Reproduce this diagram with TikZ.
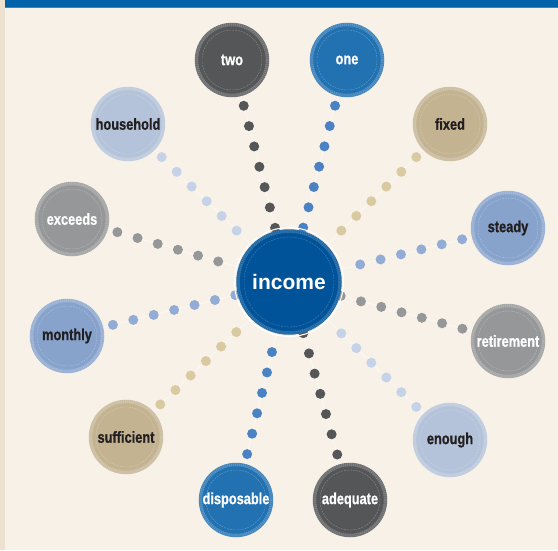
\documentclass[tikz,border=0pt]{standalone}
\usepackage{fontspec}
\setmainfont{Liberation Sans}
\newfontfamily\narrow[FakeStretch=0.8,BoldFeatures={FakeBold=0.8}]{Liberation Sans}

\definecolor{cream}{HTML}{F8F1E7}
\definecolor{strip}{HTML}{EDE2D0}
\definecolor{barblue}{HTML}{0062A8}
\definecolor{barlight}{HTML}{3A86C4}
\definecolor{ink}{HTML}{231F20}
\definecolor{cdark}{HTML}{555657}
\definecolor{cblue}{HTML}{2271B1}
\definecolor{cpale}{HTML}{B4C3D9}
\definecolor{ctan}{HTML}{C3B391}
\definecolor{cgray}{HTML}{969798}
\definecolor{cmid}{HTML}{87A3CC}
\definecolor{cincome}{HTML}{005399}
\definecolor{dblue}{HTML}{4A82C4}
\definecolor{dpale}{HTML}{C5D2E7}
\definecolor{dtan}{HTML}{DACAA2}
\definecolor{dmid}{HTML}{93ACD5}

\pgfdeclarelayer{back}
\pgfdeclarelayer{mid}
\pgfsetlayers{back,mid,main}

\begin{document}
\begin{tikzpicture}[x=1pt,y=-1pt,
  bubble/.style 2 args={circle,minimum size=71pt,inner sep=0pt,fill=#1,
    draw=#1!85!white,line width=3.5pt,text=#2,
    font=\narrow\bfseries\fontsize{16}{16}\selectfont,
    postaction={draw=white,draw opacity=.15,line width=3.5pt,dash pattern=on .5pt off 1.5pt},
    path picture={\draw[white,opacity=.3,line width=.4pt,dash pattern=on 2pt off 1pt]
      (path picture bounding box.center) circle (30pt);}},
  dotline/.style={draw=#1,line width=10pt,line cap=round,
    dash pattern=on 0pt off 21pt,shorten <=10pt}]

  \useasboundingbox (0,0) rectangle (558,550);
  \begin{pgfonlayer}{back}
    \fill[cream] (0,0) rectangle (558,550);
    \fill[strip] (0,0) rectangle (5,550);
    \fill[barblue] (5,0) rectangle (558,6.5);
    \fill[barlight] (5,6.5) rectangle (558,8);
  \end{pgfonlayer}

  % centre
  \node [bubble={cincome}{white},minimum size=102pt,draw=cincome!88!white,
    font=\bfseries\fontsize{21}{21}\selectfont,
    path picture={\draw[white,opacity=.25,line width=.4pt,dash pattern=on 2pt off 1pt]
      (path picture bounding box.center) circle (45pt);}] (income) at (289,282) {income};
  \draw[white,line width=1pt] (income.center) circle (54.5pt);

  % words
  \node [bubble={cdark}{white}] (two) at (232,60) {two};
  \node [bubble={cblue}{white}] (one) at (347,60) {one};
  \node [bubble={cpale}{ink}] (household) at (128,124) {household};
  \node [bubble={ctan}{ink}] (fixed) at (450,124) {fixed};
  \node [bubble={cgray}{white}] (exceeds) at (72,219) {exceeds};
  \node [bubble={cmid}{ink}] (steady) at (508,228) {steady};
  \node [bubble={cmid}{ink}] (monthly) at (67,336) {monthly};
  \node [bubble={cgray}{white}] (retirement) at (508,341) {retirement};
  \node [bubble={ctan}{ink}] (sufficient) at (126,437) {sufficient};
  \node [bubble={cpale}{ink}] (enough) at (450,440) {enough};
  \node [bubble={cblue}{white}] (disposable) at (236,500) {disposable};
  \node [bubble={cdark}{white}] (adequate) at (350,500) {adequate};

  % dotted spokes
  \begin{pgfonlayer}{mid}
    \foreach \n/\c in {two/cdark,one/dblue,household/dpale,fixed/dtan,
        exceeds/cgray,steady/dmid,monthly/dmid,retirement/cgray,
        sufficient/dtan,enough/dpale,disposable/dblue,adequate/cdark}{
      \draw[white,line width=.6pt,opacity=.6] (\n) -- (income);
      \draw[dotline=\c] (\n) -- (income);
    }
  \end{pgfonlayer}
\end{tikzpicture}
\end{document}
